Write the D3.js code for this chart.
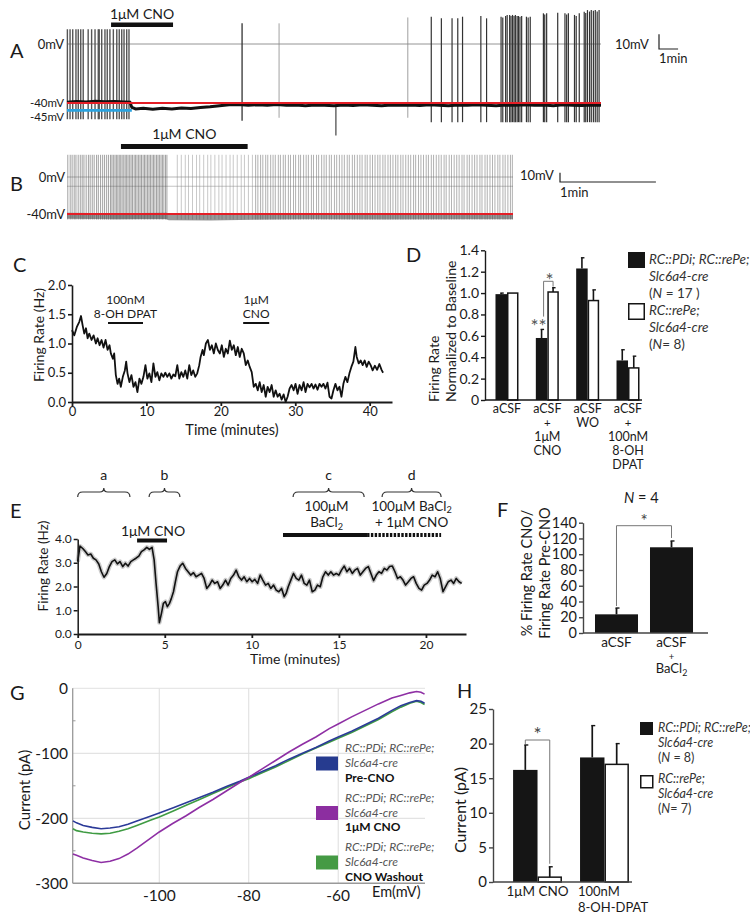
<!DOCTYPE html>
<html><head><meta charset="utf-8">
<script src="https://cdn.jsdelivr.net/npm/d3@7"></script>
<style>body{margin:0;background:#fff}svg{display:block}</style>
</head><body>
<svg id="fig" width="750" height="921"></svg>
<script>
// ================= DATA =================
// Panel A (time in minutes, membrane potential in mV)
const aBurstSpikes = [0.02,0.16,0.30,0.47,0.59,0.72,0.85,1.11,1.29,1.47,1.64,1.69,1.82,1.99,2.11,2.25,2.43,2.61,2.74,2.87,2.99,3.13,3.25];
const aBurstTop = 10, aSpikeBottom = -51;
const aMidSpikes = [9.18];
const aMidTops = [14];
const aFaintSpikes = [11.12, 17.87];
const aFaintTops = [14, 18];
const aDownDeflection = [14.1];
const aDownValues = [-62];
const aLateSpikes = [19.10,19.63,20.19,20.49,20.74,21.70,22.00,22.76,22.85,23.00,23.08,23.21,23.28,23.36,23.44,23.51,23.60,23.67,23.75,23.84,24.09,24.18,24.29,24.98,25.05,25.15,25.73,26.11,26.20,26.29,26.61,26.70,26.86,27.12,27.20,27.29,27.40,27.49,27.60,27.70,27.80,27.90];
const aLateTops = [18.5,17.4,17.4,17.4,18.5,19.0,17.4,18.5,18.0,19.0,19.7,19.7,19.0,19.7,19.0,19.7,19.0,19.0,18.5,19.0,18.5,18.0,18.5,20.8,20.0,20.8,21.2,20.8,20.0,20.8,19.7,19.0,20.8,21.9,21.0,23.0,22.0,23.0,22.5,23.0,22.0,23.0];
const aBaseT = [0,0.5,1,1.5,2,2.5,3,3.3,3.4,3.6,4,4.5,5,5.5,6,6.5,7,7.5,8,8.5,9,9.5,10,10.5,11,11.5,12,12.5,13,13.5,14,14.5,15,15.5,16,16.5,17,17.5,18,18.5,19,19.5,20,20.5,21,21.5,22,22.5,23,23.5,24,24.5,25,25.5,26,26.5,27,27.5,28];
const aBaseV = [-39.5,-39,-39.3,-38.8,-39.2,-38.9,-39.3,-39.5,-43,-44,-43.5,-44.2,-43.6,-44,-43.4,-43.8,-43,-42.6,-41.8,-41.2,-41,-41.5,-41.2,-41.5,-41,-41.6,-41.4,-41.8,-41.3,-41.6,-41.9,-41.4,-41.7,-41.2,-41.5,-41.8,-41.4,-41.6,-41.3,-41.7,-41.2,-41.5,-41.9,-41.3,-41.6,-41.2,-41.5,-41.8,-41.4,-41.6,-41.2,-41.6,-41.4,-41.8,-41.2,-41.5,-41.7,-41.3,-41.6];
const aCNO = [2.31, 5.56];
const aDuration = 28;

// Panel B (time in seconds)
const bSpikesPre = [0.5,2.0,3.2,4.5,5.6,7.0,8.3,9.5,10.6,12.0,13.4,14.5,15.8,17.0,18.5,19.6,21.0,22.3,23.5,24.8,26.0,27.2,28.1,29.0,30.0,30.9,31.8,32.7,33.6,34.5,35.5,36.4,37.3,38.2,39.2,40.1,41.0,42.0,42.9,43.8,44.8,45.7,46.6,47.6,48.5,49.4,50.4,51.3,52.2,53.2,54.1,55.0,56.0,56.9,57.8,58.8,59.7,60.6,61.6,62.5];
const bSpikesCNO = [69.0,71.5,74.0,76.0,78.5,81.0,83.0,85.5,88.0,90.0,92.5,95.0,97.0,99.5,102.0,104.0,106.5,109.0,111.0,113.5,116.0];
const bSpikesPost = [118.0,119.4,121.1,122.5,124.3,125.6,127.4,128.9,130.3,132.2,133.5,135.3,136.6,138.5,139.8,141.7,143.0,144.9,146.1,148.0,149.6,151.0,152.9,154.2,156.1,157.4,159.3,160.8,162.2,164.1,165.4,167.3,168.7,170.4,172.0,173.5,175.3,176.6,178.5,179.9,181.6,183.2,184.6,186.5,187.8,189.6,191.1,192.7,194.4,195.8,197.6,199.0,200.8,202.3,203.9,205.6,207.0,208.8,210.2,211.9,213.5,215.0,216.8,218.1,219.9,221.4,223.0,224.7,226.1,227.9,229.3,231.0,232.6,234.1,235.9,237.2,239.1,240.5,242.2,243.8,245.3,247.1,248.4,250.3,251.7,253.4,255.0,256.5,258.3,259.6,261.5,262.9,264.6,266.2,267.7,269.5,270.8,272.7,274.1,275.8,277.4,278.6];
const bSpikeTop = 24, bSpikeBottom = -46;
const bBaseT = [0,30,62,64,90,117,150,200,250,279];
const bBaseV = [-42,-42.5,-42,-43.5,-43.8,-43,-42.5,-42.8,-42.3,-42.5];
const bCNO = [33.75, 113];
const bDuration = 279;

// Panel C
const cTime = [0,0.31,0.67,0.98,1.21,1.43,1.65,1.88,2.10,2.32,2.63,2.90,3.21,3.44,3.71,3.97,4.24,4.51,4.78,5.04,5.22,5.49,5.67,5.89,6.12,6.34,6.56,6.83,7.10,7.28,7.46,7.72,7.99,8.26,8.53,8.79,9.06,9.33,9.60,9.87,10.13,10.40,10.67,10.94,11.21,11.47,11.74,12.01,12.28,12.54,12.81,13.08,13.35,13.62,13.88,14.15,14.42,14.69,14.96,15.22,15.49,15.76,16.03,16.29,16.56,16.83,17.10,17.28,17.54,17.72,17.99,18.26,18.53,18.79,19.06,19.33,19.60,19.87,20.13,20.40,20.67,20.94,21.21,21.47,21.74,22.01,22.28,22.54,22.81,23.08,23.35,23.62,23.88,24.15,24.42,24.69,24.96,25.22,25.49,25.76,26.03,26.29,26.56,26.83,27.10,27.37,27.63,27.90,28.17,28.44,28.71,28.97,29.24,29.51,29.78,30.04,30.31,30.58,30.85,31.12,31.38,31.65,31.92,32.19,32.46,32.72,32.99,33.26,33.53,33.79,34.06,34.33,34.60,34.87,35.13,35.40,35.67,35.94,36.21,36.47,36.74,37.01,37.28,37.54,37.81,38.08,38.26,38.53,38.79,39.06,39.33,39.60,39.87,40.13,40.40,40.70,41.00,41.30,41.60,41.80];
const cRate = [1.23,1.14,1.29,1.37,1.47,1.31,1.17,1.26,1.09,1.17,1.06,1.14,1.00,1.09,0.97,1.06,0.93,1.06,0.89,0.97,0.83,0.74,0.83,0.46,0.31,0.40,0.26,0.43,0.54,0.69,0.49,0.34,0.46,0.26,0.34,0.17,0.40,0.31,0.43,0.63,0.40,0.49,0.34,0.66,0.43,0.51,0.37,0.49,0.43,0.50,0.43,0.49,0.40,0.47,0.44,0.63,0.40,0.51,0.43,0.54,0.40,0.63,0.46,0.54,0.43,0.49,0.63,0.77,0.89,0.80,1.00,1.06,0.89,0.97,0.83,1.00,0.89,0.83,0.97,0.77,0.91,0.83,1.05,0.89,0.97,0.80,0.94,0.77,0.91,0.83,0.63,0.71,0.60,0.51,0.26,0.31,0.20,0.34,0.17,0.29,0.09,0.26,0.17,0.29,0.09,0.20,0.09,0.14,0.04,0.13,0.00,0.09,0.23,0.29,0.20,0.31,0.14,0.29,0.20,0.34,0.17,0.31,0.25,0.31,0.23,0.30,0.21,0.31,0.26,0.31,0.23,0.33,0.09,0.06,0.20,0.31,0.20,0.26,0.09,0.31,0.43,0.34,0.49,0.60,0.69,0.94,0.77,0.66,0.71,0.63,0.71,0.60,0.69,0.63,0.54,0.62,0.55,0.65,0.55,0.50];
const cXTicks = [0,10,20,30,40];
const cYTicks = [0,0.5,1.0,1.5,2.0];
const cDPAT = [4.84, 9.54];
const cCNO = [23.0, 26.5];

// Panel D
const dGroups = ["aCSF","aCSF + 1µM CNO","aCSF WO","aCSF + 100nM 8-OH DPAT"];
const dLabels = [["aCSF"],["aCSF","+","1μM","CNO"],["aCSF","WO"],["aCSF","+","100nM","8-OH","DPAT"]];
const dBlack = [0.99, 0.58, 1.23, 0.37];
const dBlackErr = [1.00, 0.66, 1.33, 0.47];
const dWhite = [1.00, 1.01, 0.93, 0.30];
const dWhiteErr = [null, 1.05, 1.03, 0.41];
const dYTicks = [0,0.2,0.4,0.6,0.8,1.0,1.2,1.4];

// Panel E
const eTime = [0,0.13,0.29,0.44,0.59,0.75,0.90,1.05,1.21,1.36,1.51,1.67,1.82,1.97,2.13,2.28,2.43,2.59,2.74,2.89,3.05,3.20,3.35,3.51,3.66,3.81,3.97,4.12,4.27,4.39,4.50,4.62,4.69,4.81,4.92,5.04,5.15,5.27,5.38,5.50,5.61,5.73,5.88,6.03,6.19,6.34,6.49,6.65,6.80,6.95,7.11,7.26,7.41,7.57,7.72,7.87,8.03,8.18,8.33,8.49,8.64,8.79,8.95,9.10,9.25,9.41,9.56,9.71,9.87,10.02,10.17,10.33,10.48,10.63,10.79,10.94,11.09,11.25,11.40,11.55,11.71,11.86,11.97,12.09,12.24,12.39,12.55,12.70,12.85,13.01,13.16,13.31,13.47,13.62,13.77,13.93,14.08,14.23,14.39,14.54,14.69,14.85,15.00,15.15,15.31,15.46,15.61,15.77,15.92,16.07,16.23,16.38,16.53,16.69,16.84,16.99,17.15,17.30,17.45,17.61,17.76,17.91,18.07,18.22,18.37,18.53,18.68,18.83,18.99,19.14,19.29,19.44,19.60,19.75,19.90,20.06,20.21,20.36,20.52,20.67,20.82,20.98,21.13,21.28,21.44,21.59,21.74,21.90,22.05];
const eRate = [3.05,3.70,3.60,3.47,3.33,3.37,3.19,3.12,2.95,2.62,2.39,2.55,2.84,3.05,3.12,2.95,3.05,2.84,2.98,2.86,3.05,3.12,3.19,3.28,3.47,3.54,3.65,3.56,3.65,3.12,2.13,1.15,0.48,0.87,1.29,1.36,1.15,1.29,1.50,1.78,2.20,2.62,2.86,2.98,2.76,2.62,2.48,2.58,2.41,2.48,2.55,2.34,1.92,2.06,2.27,2.13,2.20,1.92,2.06,2.27,2.06,2.34,2.48,2.69,2.41,2.27,2.41,2.20,2.34,2.20,2.30,2.13,2.48,2.27,2.06,2.13,1.92,2.06,1.85,1.78,1.92,1.57,1.71,1.99,2.27,2.55,2.34,2.27,2.48,2.13,2.06,2.27,1.78,1.85,2.06,1.99,2.41,2.62,2.48,2.62,2.48,2.55,2.48,2.69,2.86,2.62,2.76,2.55,2.69,2.76,2.48,2.62,2.76,2.84,2.55,2.25,2.48,2.62,2.55,2.76,2.69,2.84,2.86,2.62,2.34,2.41,2.27,2.06,2.20,2.34,2.41,2.13,1.92,1.85,2.06,2.13,2.27,2.48,2.41,2.62,2.34,1.78,1.99,2.20,2.27,2.13,2.34,2.20,2.13];
const eXTicks = [0,5,10,15,20];
const eYTicks = [0,1,2,3,4];
const eBraceNames = ["a","b","c","d"];
const eBraceStart = [0.0, 4.1, 12.37, 17.48];
const eBraceEnd = [3.0, 5.87, 16.45, 20.87];
const eCNO = [3.41, 5.13];
const eBa = [11.79, 16.62];
const eBaCNO = [16.62, 20.87];

// Panel F
const fCats = ["aCSF","aCSF + BaCl2"];
const fVals = [23.7, 108.8];
const fErr = [31.7, 116.8];
const fYTicks = [0,20,40,60,80,100,120,140];

// Panel G
const gEm = [-119.3,-118.5,-117,-115,-113,-111,-109,-107,-105,-102,-100,-97,-94,-91,-88,-85,-82,-80,-77,-74,-71,-68,-65,-62,-60,-57,-54,-51,-48,-46,-44,-42.5,-41.5,-40.7];
const gPre = [-204,-207,-211,-214,-216,-215,-213,-209,-204,-197,-192,-184,-176,-168,-160,-151,-143,-137,-128,-119,-109,-100,-91,-81,-75,-66,-56,-46,-34,-27,-22,-19,-20,-23];
const gCNO = [-255,-257,-261,-265,-268,-266,-262,-255,-246,-231,-221,-208,-196,-183,-171,-158,-145,-137,-124,-111,-98,-86,-75,-62,-55,-44,-34,-24,-15,-11,-7,-5,-6,-9];
const gWash = [-216,-219,-221,-223,-224,-223,-220,-216,-211,-203,-198,-189,-180,-171,-162,-153,-144,-139,-130,-121,-111,-101,-92,-83,-77,-68,-58,-48,-36,-29,-23,-20,-22,-25];
const gXTicks = [-100,-80,-60];
const gYTicks = [0,-100,-200,-300];
const gLegendNames = ["Pre-CNO","1μM CNO","CNO Washout"];

// Panel H
const hGroups = ["1μM CNO","100nM 8-OH-DPAT"];
const hBlack = [16.2, 18.0];
const hBlackErr = [19.8, 22.6];
const hWhite = [0.7, 17.0];
const hWhiteErr = [2.2, 20.0];
const hYTicks = [0,5,10,15,20,25];

// ================= DRAWING =================
const FONT = "Lato, 'Open Sans', 'DejaVu Sans', sans-serif";
const svg = d3.select("#fig");
svg.append("rect").attr("width",750).attr("height",921).attr("fill","#fff");

function txt(x, y, s, o = {}) {
  const t = svg.append("text").attr("x", x).attr("y", y)
    .attr("font-family", FONT).attr("font-size", o.size || 13)
    .attr("fill", o.fill || "#1a1a1a")
    .attr("text-anchor", o.anchor || "start");
  if (o.italic) t.attr("font-style", "italic");
  if (o.weight) t.attr("font-weight", o.weight);
  if (o.rotate) t.attr("transform", `rotate(${o.rotate},${x},${y})`);
  if (s !== null) t.text(s);
  return t;
}
function bacl(t, pre, post) {
  t.append("tspan").text(pre + "BaCl");
  t.append("tspan").attr("font-size","0.68em").attr("dy",2.5).text("2");
  if (post) t.append("tspan").attr("dy",-2.5).text(post);
}
function nLine(x, y, pre, post, size) {
  const t = txt(x, y, null, {size, fill:"#333"});
  t.append("tspan").text(pre);
  t.append("tspan").attr("font-style","italic").text("N");
  t.append("tspan").text(post);
  return t;
}
function styleAxis(g, size, sw, col) {
  g.attr("font-family", FONT).attr("font-size", size);
  g.selectAll("path,line").attr("stroke", col || "#1a1a1a").attr("stroke-width", sw);
  g.selectAll("text").attr("fill", "#1a1a1a");
}
function hline(x1, x2, y, col, w) {
  svg.append("line").attr("x1",x1).attr("x2",x2).attr("y1",y).attr("y2",y).attr("stroke",col).attr("stroke-width",w);
}

// ---------- Panel A ----------
{
  const xA = d3.scaleLinear().domain([0, aDuration]).range([67, 601]);
  const yA = d3.scaleLinear().domain([-40, 0]).range([103, 44]);
  hline(xA(0), xA(aDuration), yA(0), "#888", 0.9);
  const g = svg.append("g");
  g.selectAll(".bs").data(aBurstSpikes).join("line")
    .attr("x1", d => xA(d)).attr("x2", d => xA(d))
    .attr("y1", yA(aSpikeBottom)).attr("y2", yA(aBurstTop))
    .attr("stroke", "#555").attr("stroke-width", 1.4);
  g.selectAll(".fs").data(aFaintSpikes).join("line")
    .attr("x1", d => xA(d)).attr("x2", d => xA(d))
    .attr("y1", yA(-50)).attr("y2", (d, i) => yA(aFaintTops[i]))
    .attr("stroke", "#888").attr("stroke-width", 0.8);
  g.selectAll(".ms").data(aMidSpikes).join("line")
    .attr("x1", d => xA(d)).attr("x2", d => xA(d))
    .attr("y1", yA(-52)).attr("y2", (d, i) => yA(aMidTops[i]))
    .attr("stroke", "#333").attr("stroke-width", 1.3);
  g.selectAll(".dd").data(aDownDeflection).join("line")
    .attr("x1", d => xA(d)).attr("x2", d => xA(d))
    .attr("y1", yA(-41)).attr("y2", (d, i) => yA(aDownValues[i]))
    .attr("stroke", "#333").attr("stroke-width", 1.1);
  g.selectAll(".ls").data(aLateSpikes).join("line")
    .attr("x1", d => xA(d)).attr("x2", d => xA(d))
    .attr("y1", yA(-53)).attr("y2", (d, i) => yA(aLateTops[i]))
    .attr("stroke", "#333").attr("stroke-width", 1.2);
  g.append("path").datum(aBaseT)
    .attr("d", d3.line().x((d) => xA(d)).y((d, i) => yA(aBaseV[i])))
    .attr("fill","none").attr("stroke","#111").attr("stroke-width",3);
  hline(xA(0), xA(aDuration), yA(-40), "#e41e26", 2.2);
  hline(xA(0), xA(3.4), yA(-45), "#2aa3df", 2.6);
  svg.append("rect").attr("x", xA(aCNO[0])).attr("y", 22.5).attr("width", xA(aCNO[1]) - xA(aCNO[0])).attr("height", 4.5).attr("fill", "#111");
  txt((xA(aCNO[0]) + xA(aCNO[1])) / 2, 19, "1μM CNO", {size: 14, anchor: "middle"});
  txt(10, 58, "A", {size: 20});
  txt(64, 49, "0mV", {size: 13, anchor: "end"});
  txt(64, 107, "-40mV", {size: 11.5, anchor: "end"});
  txt(64, 121, "-45mV", {size: 11.5, anchor: "end"});
  const sx = 659, sy = yA(0) + 5;
  svg.append("path").attr("d", `M${sx},${sy - (yA(-10) - yA(0))}V${sy}H${sx + (xA(1) - xA(0))}`)
    .attr("fill","none").attr("stroke","#222").attr("stroke-width",1.2);
  txt(615, 49, "10mV", {size: 13});
  txt(659, 63, "1min", {size: 13});
}

// ---------- Panel B ----------
{
  const xB = d3.scaleLinear().domain([0, bDuration]).range([67, 513]);
  const yB = d3.scaleLinear().domain([-40, 0]).range([214, 177]);
  hline(xB(0), xB(bDuration), yB(0), "#999", 0.7);
  hline(xB(0), xB(bDuration), yB(-10), "#aaa", 0.7);
  const draw = (arr, col, op) => svg.append("g").selectAll("line").data(arr).join("line")
    .attr("x1", d => xB(d)).attr("x2", d => xB(d))
    .attr("y1", yB(bSpikeBottom)).attr("y2", yB(bSpikeTop))
    .attr("stroke", col).attr("stroke-width", 0.9).attr("opacity", op);
  draw(bSpikesPre, "#444", 0.55);
  draw(bSpikesCNO, "#888", 0.5);
  draw(bSpikesPost, "#555", 0.5);
  svg.append("path").datum(bBaseT)
    .attr("d", d3.line().x(d => xB(d)).y((d, i) => yB(bBaseV[i])))
    .attr("fill","none").attr("stroke","#444").attr("stroke-width",6).attr("opacity",0.55);
  hline(xB(0), xB(bDuration), yB(-40), "#e41e26", 2.2);
  svg.append("rect").attr("x", xB(bCNO[0])).attr("y", 144).attr("width", xB(bCNO[1]) - xB(bCNO[0])).attr("height", 5).attr("fill", "#111");
  txt((xB(bCNO[0]) + xB(bCNO[1])) / 2, 139, "1μM CNO", {size: 14, anchor: "middle"});
  txt(10, 191, "B", {size: 20});
  txt(65, 182, "0mV", {size: 13, anchor: "end"});
  txt(65, 219, "-40mV", {size: 13, anchor: "end"});
  const sx = 560, sy = 182;
  svg.append("path").attr("d", `M${sx},${sy - (yB(-10) - yB(0))}V${sy}H${sx + (xB(60) - xB(0))}`)
    .attr("fill","none").attr("stroke","#222").attr("stroke-width",1.2);
  txt(520, 180, "10mV", {size: 13});
  txt(560, 197, "1min", {size: 13});
}

// ---------- Panel C ----------
{
  const xC = d3.scaleLinear().domain([0, 43]).range([72, 392]);
  const yC = d3.scaleLinear().domain([0, 2]).range([402, 285]);
  const gx = svg.append("g").attr("transform", "translate(0,402)")
    .call(d3.axisBottom(xC).tickValues(cXTicks).tickSize(4).tickSizeOuter(0).tickPadding(1));
  styleAxis(gx, 13, 1.8);
  const gy = svg.append("g").attr("transform", "translate(72,0)")
    .call(d3.axisLeft(yC).tickValues(cYTicks).tickFormat(d3.format(".1f")).tickSize(4).tickSizeOuter(0).tickPadding(2));
  styleAxis(gy, 13, 1.6);
  svg.append("path").datum(cTime)
    .attr("d", d3.line().x(d => xC(d)).y((d, i) => yC(cRate[i])))
    .attr("fill","none").attr("stroke","#111").attr("stroke-width",1.8).attr("stroke-linejoin","round");
  txt(13, 272, "C", {size: 20});
  txt(44, 335, "Firing Rate (Hz)", {size: 14, anchor: "middle", rotate: -90});
  txt(232, 435, "Time (minutes)", {size: 14.5, anchor: "middle"});
  const mD = (xC(cDPAT[0]) + xC(cDPAT[1])) / 2, mC = (xC(cCNO[0]) + xC(cCNO[1])) / 2;
  txt(mD, 303.5, "100nM", {size: 12, anchor: "middle"});
  txt(mD, 318, "8-OH DPAT", {size: 12, anchor: "middle"});
  hline(xC(cDPAT[0]), xC(cDPAT[1]), 323, "#111", 2);
  txt(mC, 303.5, "1μM", {size: 12, anchor: "middle"});
  txt(mC, 318, "CNO", {size: 12, anchor: "middle"});
  hline(xC(cCNO[0]), xC(cCNO[1]), 323, "#111", 2);
}

// ---------- Panel D ----------
{
  const yD = d3.scaleLinear().domain([0, 1.4]).range([400, 250.3]);
  const xD = d3.scaleBand().domain(dGroups).range([485, 650]).paddingInner(0.43).paddingOuter(0.26);
  const bw = xD.bandwidth() / 2;
  const gy = svg.append("g").attr("transform", "translate(485,0)")
    .call(d3.axisLeft(yD).tickValues(dYTicks).tickFormat(d => d === 0 ? "0" : d3.format(".1f")(d)).tickSize(4).tickSizeOuter(0).tickPadding(2));
  styleAxis(gy, 14, 1.4);
  svg.append("g").selectAll("rect").data(dGroups).join("rect")
    .attr("x", d => xD(d)).attr("width", bw)
    .attr("y", (d, i) => yD(dBlack[i])).attr("height", (d, i) => yD(0) - yD(dBlack[i]))
    .attr("fill", "#151515");
  svg.append("g").selectAll("rect").data(dGroups).join("rect")
    .attr("x", d => xD(d) + bw + 0.75).attr("width", bw - 1.5)
    .attr("y", (d, i) => yD(dWhite[i])).attr("height", (d, i) => yD(0) - yD(dWhite[i]))
    .attr("fill", "#fff").attr("stroke", "#151515").attr("stroke-width", 1.5);
  dGroups.forEach((g, i) => {
    const cb = xD(g) + bw / 2, cw = xD(g) + bw * 1.5;
    if (dBlackErr[i] != null) {
      svg.append("line").attr("x1", cb).attr("x2", cb).attr("y1", yD(dBlack[i])).attr("y2", yD(dBlackErr[i])).attr("stroke","#151515").attr("stroke-width",1.6);
      hline(cb - 1, cb + 2.5, yD(dBlackErr[i]), "#151515", 1.4);
    }
    if (dWhiteErr[i] != null) {
      svg.append("line").attr("x1", cw).attr("x2", cw).attr("y1", yD(dWhite[i])).attr("y2", yD(dWhiteErr[i])).attr("stroke","#151515").attr("stroke-width",1.6);
      hline(cw - 1, cw + 2.5, yD(dWhiteErr[i]), "#151515", 1.4);
    }
    dLabels[i].forEach((s, j) => txt(xD(g) + bw, 413 + j * 14, s, {size: s === "+" ? 11.5 : 12.5, anchor: "middle"}));
  });
  hline(485, 642, 400, "#151515", 1.4);
  const g1 = dGroups[1], cb = xD(g1) + bw / 2 + 2, cw = xD(g1) + bw * 1.5;
  svg.append("path").attr("d", `M${cb},${yD(0.78)}V${yD(1.11)}H${cw}V${yD(1.06)}`)
    .attr("fill","none").attr("stroke","#777").attr("stroke-width",1);
  txt(xD(g1) + bw / 2 - 3, 333, "**", {size: 19, anchor: "middle", fill: "#555"});
  txt(cb + 6, 287, "*", {size: 19, anchor: "middle", fill: "#555"});
  txt(406, 262, "D", {size: 20});
  txt(439, 402, "Firing Rate", {size: 14, rotate: -90});
  txt(456, 402, "Normalized to Baseline", {size: 14, rotate: -90});
  svg.append("rect").attr("x", 628).attr("y", 252).attr("width", 17).attr("height", 16).attr("fill", "#151515");
  txt(649, 264, "RC::PDi; RC::rePe;", {size: 13.5, italic: true, fill: "#333"});
  txt(649, 281, "Slc6a4-cre", {size: 13.5, italic: true, fill: "#333"});
  nLine(649, 298, "(", " = 17 )", 13.5);
  svg.append("rect").attr("x", 628.75).attr("y", 303.75).attr("width", 15.5).attr("height", 15.5).attr("fill", "#fff").attr("stroke","#151515").attr("stroke-width",1.5);
  txt(649, 315, "RC::rePe;", {size: 13.5, italic: true, fill: "#333"});
  txt(649, 332, "Slc6a4-cre", {size: 13.5, italic: true, fill: "#333"});
  nLine(649, 349, "(", "= 8)", 13.5);
}

// ---------- Panel E ----------
{
  const xE = d3.scaleLinear().domain([0, 22.3]).range([77.7, 466]);
  const yE = d3.scaleLinear().domain([0, 4]).range([634, 539]);
  svg.append("path").datum(eTime)
    .attr("d", d3.line().x(d => xE(d)).y((d, i) => yE(eRate[i])))
    .attr("fill","none").attr("stroke","#aaa").attr("stroke-width",4.5).attr("stroke-linejoin","round").attr("opacity",0.6);
  svg.append("path").datum(eTime)
    .attr("d", d3.line().x(d => xE(d)).y((d, i) => yE(eRate[i])))
    .attr("fill","none").attr("stroke","#111").attr("stroke-width",1.6).attr("stroke-linejoin","round");
  const gx = svg.append("g").attr("transform", "translate(0,634)")
    .call(d3.axisBottom(xE).tickValues(eXTicks).tickSize(4).tickSizeOuter(0).tickPadding(2));
  styleAxis(gx, 12, 1.8);
  const gy = svg.append("g").attr("transform", "translate(77.7,0)")
    .call(d3.axisLeft(yE).tickValues(eYTicks).tickSize(4).tickSizeOuter(0).tickPadding(2));
  styleAxis(gy, 12, 1.5);
  txt(10, 518, "E", {size: 20});
  txt(48, 566, "Firing Rate (Hz)", {size: 13.5, anchor: "middle", rotate: -90});
  txt(295, 664, "Time (minutes)", {size: 14, anchor: "middle"});
  eBraceNames.forEach((n, i) => {
    const x1 = xE(eBraceStart[i]), x2 = xE(eBraceEnd[i]), m = (x1 + x2) / 2, y = 492;
    svg.append("path").attr("d",
      `M${x1},${y + 5}Q${x1},${y} ${x1 + 5},${y}L${m - 4},${y}Q${m},${y} ${m},${y - 4}Q${m},${y} ${m + 4},${y}L${x2 - 5},${y}Q${x2},${y} ${x2},${y + 5}`)
      .attr("fill","none").attr("stroke","#333").attr("stroke-width",1.2);
    txt(m, 480, n, {size: 14, anchor: "middle"});
  });
  svg.append("rect").attr("x", xE(eCNO[0])).attr("y", 538.5).attr("width", xE(eCNO[1]) - xE(eCNO[0])).attr("height", 4).attr("fill","#111");
  txt((xE(eCNO[0]) + xE(eCNO[1])) / 2 + 1, 536, "1μM CNO", {size: 14, anchor: "middle"});
  svg.append("rect").attr("x", xE(eBa[0])).attr("y", 533).attr("width", xE(eBa[1]) - xE(eBa[0])).attr("height", 4).attr("fill","#111");
  svg.append("line").attr("x1", xE(eBaCNO[0])).attr("x2", xE(eBaCNO[1])).attr("y1", 535).attr("y2", 535)
    .attr("stroke","#111").attr("stroke-width",4).attr("stroke-dasharray","2.4,1.4");
  const mBa = (xE(eBraceStart[2]) + xE(eBraceEnd[2])) / 2 - 2;
  txt(mBa, 510.5, "100μM", {size: 13.5, anchor: "middle"});
  bacl(txt(mBa, 527, null, {size: 13.5, anchor: "middle"}), "", "");
  const mBd = (xE(eBraceStart[3]) + xE(eBraceEnd[3])) / 2;
  bacl(txt(mBd, 510.5, null, {size: 13.5, anchor: "middle"}), "100μM ", "");
  txt(mBd, 527, "+ 1μM CNO", {size: 13.5, anchor: "middle"});
}

// ---------- Panel F ----------
{
  const yF = d3.scaleLinear().domain([0, 140]).range([633, 522.7]);
  const xF = d3.scaleBand().domain(fCats).range([583, 705]).paddingInner(0.218).paddingOuter(0.218);
  const gy = svg.append("g").attr("transform", "translate(583,0)")
    .call(d3.axisLeft(yF).tickValues(fYTicks).tickSize(4).tickSizeOuter(0).tickPadding(2));
  styleAxis(gy, 14.5, 1.4, "#444");
  svg.append("g").selectAll("rect").data(fCats).join("rect")
    .attr("x", d => xF(d)).attr("width", xF.bandwidth())
    .attr("y", (d, i) => yF(fVals[i])).attr("height", (d, i) => yF(0) - yF(fVals[i]))
    .attr("fill", "#151515");
  fCats.forEach((c, i) => {
    const cx = xF(c) + xF.bandwidth() / 2;
    svg.append("line").attr("x1", cx).attr("x2", cx).attr("y1", yF(fVals[i])).attr("y2", yF(fErr[i])).attr("stroke","#151515").attr("stroke-width",1.8);
    hline(cx - 1, cx + 3, yF(fErr[i]), "#151515", 1.4);
  });
  hline(583, 708, 633, "#444", 1.4);
  const c1 = xF(fCats[0]) + xF.bandwidth() / 2, c2 = xF(fCats[1]) + xF.bandwidth() / 2;
  svg.append("path").attr("d", `M${c1},${yF(fErr[0]) - 2}V525.7H${c2}V${yF(fErr[1]) - 3}`)
    .attr("fill","none").attr("stroke","#777").attr("stroke-width",1);
  txt((c1 + c2) / 2, 527, "*", {size: 17, anchor: "middle", fill: "#444"});
  nLine((c1 + c2) / 2 - 20, 503, "", " = 4", 14.5).attr("fill","#1a1a1a");
  txt(497, 517, "F", {size: 20});
  txt(532, 573, "% Firing Rate CNO/", {size: 14.5, anchor: "middle", rotate: -90});
  txt(550, 573, "Firing Rate Pre-CNO", {size: 14.5, anchor: "middle", rotate: -90});
  txt(c1, 647, "aCSF", {size: 13.5, anchor: "middle"});
  txt(c2, 647, "aCSF", {size: 13.5, anchor: "middle"});
  txt(c2, 659.5, "+", {size: 9.5, anchor: "middle"});
  bacl(txt(c2, 673, null, {size: 13, anchor: "middle"}), "", "");
}

// ---------- Panel G ----------
{
  const xG = d3.scaleLinear().domain([-119.35, -40.6]).range([72.7, 425]);
  const yG = d3.scaleLinear().domain([-300, 0]).range([883.3, 688.3]);
  gXTicks.forEach(v => svg.append("line").attr("x1", xG(v)).attr("x2", xG(v)).attr("y1", yG(0)).attr("y2", yG(-300)).attr("stroke","#ddd").attr("stroke-width",1));
  [-100, -200].forEach(v => hline(xG(-119.35), xG(-40.6), yG(v), "#ddd", 1));
  hline(xG(-119.35), xG(-40.6), yG(0), "#e2e2e2", 1);
  hline(xG(-119.35), xG(-40.6), yG(-300), "#999", 1.5);
  svg.append("line").attr("x1", 72.7).attr("x2", 72.7).attr("y1", yG(0)).attr("y2", yG(-300)).attr("stroke","#999").attr("stroke-width",1.3);
  [-50, -150, -250].forEach(v => hline(72.7, 75.5, yG(v), "#999", 1));
  const series = [gPre, gCNO, gWash];
  const cols = ["#2b3a98", "#8e2fa4", "#3f9b43"];
  [2, 0, 1].forEach(k => {
    svg.append("path").datum(gEm)
      .attr("d", d3.line().x(d => xG(d)).y((d, i) => yG(series[k][i])))
      .attr("fill","none").attr("stroke", cols[k]).attr("stroke-width", 1.6);
  });
  gYTicks.forEach(v => txt(68, yG(v) + 5.5, String(v), {size: 15.5, anchor: "end"}));
  gXTicks.forEach(v => txt(xG(v), 901, String(v), {size: 15.5, anchor: "middle"}));
  txt(372, 897, "Em(mV)", {size: 14.5});
  txt(30, 790, "Current (pA)", {size: 15, anchor: "middle", rotate: -90});
  txt(10, 700, "G", {size: 20});
  const sw = ["#263b8f", "#8c2ea0", "#459a44"];
  gLegendNames.forEach((n, i) => {
    const y0 = 752 + i * 49.5;
    svg.append("rect").attr("x", 316).attr("y", y0 + 4.5).attr("width", 22).attr("height", 14).attr("fill", sw[i]);
    txt(345, y0, "RC::PDi; RC::rePe;", {size: 12, italic: true, fill: "#555"});
    txt(345, y0 + 15, "Slc6a4-cre", {size: 12, italic: true, fill: "#555"});
    txt(345, y0 + 29.5, n, {size: 12, weight: "bold", fill: "#111"});
  });
}

// ---------- Panel H ----------
{
  const yH = d3.scaleLinear().domain([0, 25]).range([882, 709]);
  const xH = d3.scaleBand().domain(hGroups).range([493, 649]).paddingInner(0.27).paddingOuter(0.3);
  const bw = xH.bandwidth() / 2;
  const gy = svg.append("g").attr("transform", "translate(493,0)")
    .call(d3.axisLeft(yH).tickValues(hYTicks).tickSize(4).tickSizeOuter(0).tickPadding(2));
  styleAxis(gy, 15, 1.4, "#444");
  svg.append("g").selectAll("rect").data(hGroups).join("rect")
    .attr("x", d => xH(d)).attr("width", bw)
    .attr("y", (d, i) => yH(hBlack[i])).attr("height", (d, i) => yH(0) - yH(hBlack[i]))
    .attr("fill", "#151515");
  svg.append("g").selectAll("rect").data(hGroups).join("rect")
    .attr("x", d => xH(d) + bw + 0.75).attr("width", bw - 1.5)
    .attr("y", (d, i) => yH(hWhite[i])).attr("height", (d, i) => yH(0) - yH(hWhite[i]))
    .attr("fill", "#fff").attr("stroke", "#151515").attr("stroke-width", 1.5);
  hGroups.forEach((g, i) => {
    const cb = xH(g) + bw / 2, cw = xH(g) + bw * 1.5;
    svg.append("line").attr("x1", cb).attr("x2", cb).attr("y1", yH(hBlack[i])).attr("y2", yH(hBlackErr[i])).attr("stroke","#151515").attr("stroke-width",1.7);
    hline(cb - 1, cb + 3, yH(hBlackErr[i]), "#151515", 1.4);
    svg.append("line").attr("x1", cw).attr("x2", cw).attr("y1", yH(hWhite[i])).attr("y2", yH(hWhiteErr[i])).attr("stroke","#151515").attr("stroke-width",1.7);
    hline(cw - 1, cw + 3, yH(hWhiteErr[i]), "#151515", 1.4);
  });
  hline(493, 632, 882, "#444", 1.4);
  const g0 = hGroups[0], cb = xH(g0) + bw / 2, cw = xH(g0) + bw * 1.5;
  svg.append("path").attr("d", `M${cb},${yH(hBlackErr[0]) - 1}V740H${cw}V${yH(hWhiteErr[0]) - 3}`)
    .attr("fill","none").attr("stroke","#777").attr("stroke-width",1);
  txt((cb + cw) / 2, 741, "*", {size: 19, anchor: "middle", fill: "#444"});
  txt(xH(g0) + bw, 896, "1μM CNO", {size: 13.5, anchor: "middle"});
  txt(578, 896, "100nM", {size: 13});
  txt(578, 912, "8-OH-DPAT", {size: 13});
  txt(466, 810, "Current (pA)", {size: 16, anchor: "middle", rotate: -90});
  txt(457, 698, "H", {size: 20});
  svg.append("rect").attr("x", 640).attr("y", 722).attr("width", 13).attr("height", 13).attr("fill", "#151515");
  txt(658, 732, "RC::PDi; RC::rePe;", {size: 12.5, italic: true, fill: "#333"});
  txt(658, 747, "Slc6a4-cre", {size: 12.5, italic: true, fill: "#333"});
  nLine(658, 762, "(", " = 8)", 12.5);
  svg.append("rect").attr("x", 640.75).attr("y", 775.75).attr("width", 12).attr("height", 12).attr("fill", "#fff").attr("stroke","#151515").attr("stroke-width",1.5);
  txt(658, 783, "RC::rePe;", {size: 12.5, italic: true, fill: "#333"});
  txt(658, 798, "Slc6a4-cre", {size: 12.5, italic: true, fill: "#333"});
  nLine(658, 813, "(", "= 7)", 12.5);
}
</script>
</body></html>
